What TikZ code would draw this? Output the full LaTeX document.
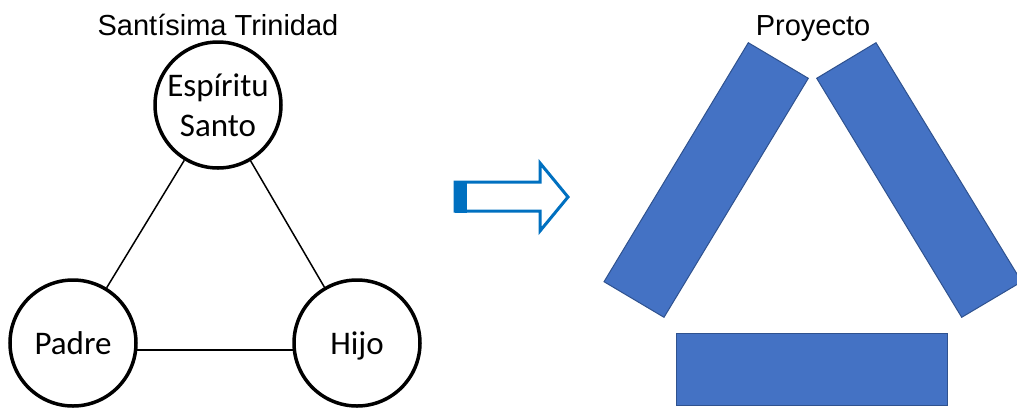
\documentclass[tikz,border=0pt]{standalone}
\usepackage{fontspec}
\setmainfont{Liberation Sans}
\newfontfamily\calibri{Carlito}
\definecolor{barblue}{HTML}{4472C4}
\definecolor{barborder}{HTML}{2F528F}
\definecolor{arrowblue}{HTML}{0070C0}
\begin{document}
\begin{tikzpicture}[x=1pt,y=-1pt,
    person/.style={circle,draw,line width=3.5pt,minimum size=126pt,inner sep=0pt,
      align=center,text depth=0pt,font=\calibri\fontsize{33}{40}\selectfont},
    titletext/.style={anchor=base,font=\fontsize{29}{34}\selectfont},
    bar/.style={fill=barblue,draw=barborder,line width=1pt}]
  \useasboundingbox (0,0) rectangle (1017,408);
  % trinidad
  \node[titletext] (trinidad) at (218,35) {Santísima Trinidad};
  \node[person] (espiritu) at (218,105) {Espíritu\\Santo};
  \node[person] (padre) at (73,343) {Padre};
  \node[person] (hijo) at (357,343) {Hijo};
  \draw[line width=1.5pt] (espiritu) -- (padre);
  \draw[line width=1.5pt] (espiritu) -- (hijo);
  \draw[line width=1.5pt] (padre.-6) -- (hijo.-174);
  % flecha
  \draw[arrowblue,line width=3pt,miter limit=10]
    (455,182) -- (540,182) -- (540,163) -- (568,197) -- (540,231) -- (540,211) -- (455,211) -- cycle;
  \fill[arrowblue] (455,180.5) rectangle (467,212.5);
  % proyecto
  \node[titletext] (proyecto) at (813,35) {Proyecto};
  \filldraw[bar] (748.3,42.7) -- (808.3,78.3) -- (664,317.3) -- (604,281.7) -- cycle;
  \filldraw[bar] (876,42.7) -- (816.7,78.3) -- (961.7,317.3) -- (1021.7,281.7) -- cycle;
  \filldraw[bar] (676.7,333.3) rectangle (947.7,405);
\end{tikzpicture}
\end{document}
